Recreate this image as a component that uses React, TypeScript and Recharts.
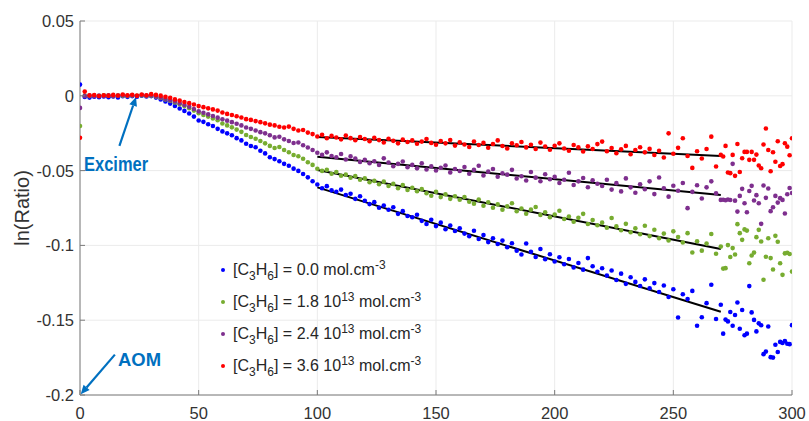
import React from "react";
import {
  CartesianGrid,
  ComposedChart,
  Label,
  Legend,
  Line,
  ReferenceDot,
  ReferenceLine,
  Scatter,
  XAxis,
  YAxis,
} from "recharts";

// time grid (step 2 up to 270, then step 1 in the tail)
const timeX = [
  0, 2, 4, 6, 8, 10, 12, 14, 16, 18,
  20, 22, 24, 26, 28, 30, 32, 34, 36, 38,
  40, 42, 44, 46, 48, 50, 52, 54, 56, 58,
  60, 62, 64, 66, 68, 70, 72, 74, 76, 78,
  80, 82, 84, 86, 88, 90, 92, 94, 96, 98,
  100, 102, 104, 106, 108, 110, 112, 114, 116, 118,
  120, 122, 124, 126, 128, 130, 132, 134, 136, 138,
  140, 142, 144, 146, 148, 150, 152, 154, 156, 158,
  160, 162, 164, 166, 168, 170, 172, 174, 176, 178,
  180, 182, 184, 186, 188, 190, 192, 194, 196, 198,
  200, 202, 204, 206, 208, 210, 212, 214, 216, 218,
  220, 222, 224, 226, 228, 230, 232, 234, 236, 238,
  240, 242, 244, 246, 248, 250, 252, 254, 256, 258,
  260, 262, 264, 266, 268, 270,
  271, 272, 273, 274, 275, 276, 277, 278, 279, 280,
  281, 282, 283, 284, 285, 286, 287, 288, 289, 290,
  291, 292, 293, 294, 295, 296, 297, 298, 299, 300,
];

const blueY = [
  0.0075, -0.0008, -0.0012, -0.0006, -0.001, -0.0004, -0.0009, -0.0005, -0.0011, -0.0003,
  -0.0007, -0.0002, -0.0006, 0.0001, -0.0004, -0.0002, -0.0012, -0.0025, -0.0038, -0.0052,
  -0.0068, -0.0085, -0.0101, -0.0118, -0.0139, -0.0165, -0.0174, -0.019, -0.0202, -0.0221,
  -0.0238, -0.0251, -0.0264, -0.0283, -0.0298, -0.0321, -0.0336, -0.0344, -0.0367, -0.0385,
  -0.0411, -0.0423, -0.0438, -0.0455, -0.0468, -0.0487, -0.0502, -0.0523, -0.0545, -0.0571,
  -0.0593, -0.0618, -0.0604, -0.0632, -0.0641, -0.0627, -0.0663, -0.0655, -0.0689, -0.0671,
  -0.0702, -0.0724, -0.0711, -0.0748, -0.0733, -0.0762, -0.0745, -0.0789, -0.0771, -0.0803,
  -0.0812, -0.0795, -0.0836, -0.0857, -0.0829, -0.0871, -0.0848, -0.0892, -0.0867, -0.0904,
  -0.0886, -0.0921, -0.0939, -0.0902, -0.0957, -0.0931, -0.0978, -0.0952, -0.0991, -0.0968,
  -0.1012, -0.0986, -0.1035, -0.1061, -0.0987, -0.1043, -0.1078, -0.1024, -0.1092, -0.1059,
  -0.1108, -0.1079, -0.1126, -0.1091, -0.1147, -0.1118, -0.1162, -0.1085, -0.1139, -0.1176,
  -0.1153, -0.1202, -0.1168, -0.1231, -0.1189, -0.1257, -0.1213, -0.1244, -0.1271, -0.1227,
  -0.1286, -0.1252, -0.1311, -0.1268, -0.1345, -0.1293, -0.1482, -0.1327, -0.1359, -0.1304,
  -0.1537, -0.148, -0.1386, -0.1263, -0.1492, -0.1397,
  -0.159, -0.1496, -0.1508, -0.1445, -0.1537, -0.1465, -0.1382, -0.1557, -0.1432, -0.1601,
  -0.159, -0.1272, -0.1448, -0.1498, -0.1575, -0.1521, -0.1534, -0.1727, -0.171, -0.1542,
  -0.1747, -0.175, -0.1664, -0.1713, -0.1645, -0.1652, -0.1639, -0.1657, -0.166, -0.1533,
];

const greenY = [
  -0.0202, 0.0001, -0.0002, 0.0002, -0.0001, 0.0003, 0.0, -0.0002, 0.0002, 0.0001,
  -0.0001, 0.0002, 0.0, 0.0003, -0.0001, 0.0001, -0.0006, -0.0015, -0.0024, -0.0033,
  -0.0044, -0.0056, -0.0069, -0.0083, -0.0099, -0.0116, -0.0128, -0.0139, -0.0152, -0.0163,
  -0.0185, -0.0198, -0.0211, -0.0226, -0.0241, -0.0262, -0.0275, -0.0287, -0.0302, -0.0318,
  -0.0335, -0.0349, -0.0342, -0.0362, -0.0377, -0.0396, -0.0404, -0.0421, -0.0444, -0.0462,
  -0.0488, -0.0502, -0.0495, -0.0521, -0.0509, -0.0534, -0.0527, -0.0548, -0.0536, -0.0561,
  -0.0552, -0.0578, -0.0569, -0.0591, -0.0574, -0.0603, -0.0589, -0.0618, -0.0597, -0.0629,
  -0.0615, -0.0638, -0.0624, -0.0651, -0.0668, -0.0642, -0.0677, -0.0659, -0.0689, -0.0671,
  -0.0695, -0.0676, -0.0708, -0.0721, -0.0694, -0.0735, -0.0712, -0.0748, -0.0726, -0.0761,
  -0.0739, -0.0718, -0.0772, -0.0754, -0.0788, -0.0761, -0.0743, -0.0796, -0.0779, -0.0812,
  -0.0793, -0.0768, -0.0824, -0.0807, -0.0842, -0.0816, -0.0789, -0.0857, -0.0831, -0.0865,
  -0.0848, -0.0882, -0.0817, -0.0873, -0.0899, -0.0856, -0.0912, -0.0886, -0.0925, -0.0869,
  -0.0938, -0.0895, -0.0952, -0.0921, -0.0967, -0.0906, -0.0944, -0.0981, -0.0918, -0.1047,
  -0.0972, -0.1035, -0.0988, -0.0924, -0.1056, -0.1008,
  -0.1155, -0.1152, -0.0998, -0.1078, -0.1018, -0.1061, -0.0858, -0.0918, -0.0963, -0.0893,
  -0.0901, -0.1119, -0.1068, -0.1048, -0.0945, -0.0896, -0.0974, -0.123, -0.1076, -0.0952,
  -0.1085, -0.1161, -0.0936, -0.0976, -0.1119, -0.1197, -0.1053, -0.1049, -0.1057, -0.1175,
];

const purpleY = [
  -0.0081, -0.0002, 0.0001, -0.0003, 0.0002, -0.0001, 0.0003, -0.0002, 0.0001, 0.0004,
  0.0, 0.0003, -0.0002, 0.0005, 0.0001, 0.0003, -0.0004, -0.0012, -0.0021, -0.0029,
  -0.0038, -0.0049, -0.0061, -0.0074, -0.0088, -0.0104, -0.0113, -0.0124, -0.0135, -0.0146,
  -0.0157, -0.0166, -0.0176, -0.0187, -0.0198, -0.0212, -0.0221, -0.0232, -0.0243, -0.0251,
  -0.0264, -0.0278, -0.0274, -0.0291, -0.0302, -0.0316, -0.0312, -0.0331, -0.0346, -0.0362,
  -0.0381, -0.0395, -0.0378, -0.0402, -0.0411, -0.0389, -0.0426, -0.0405, -0.0419, -0.0442,
  -0.0428, -0.0451, -0.0437, -0.0462, -0.0418, -0.0446, -0.0471, -0.0455, -0.0439, -0.0478,
  -0.0462, -0.0485, -0.0451, -0.0493, -0.0472, -0.0499, -0.0481, -0.0466, -0.0512, -0.0489,
  -0.0503, -0.0476, -0.0521, -0.0495, -0.0468, -0.0532, -0.0507, -0.0489, -0.0541, -0.0518,
  -0.0527, -0.0495, -0.0553, -0.0538, -0.0566, -0.0509, -0.0547, -0.0571, -0.0524, -0.0558,
  -0.0542, -0.0583, -0.0561, -0.0514, -0.0596, -0.0572, -0.0549, -0.0611, -0.0565, -0.0588,
  -0.0603, -0.0561, -0.0627, -0.0584, -0.0639, -0.0552, -0.0612, -0.0648, -0.0591, -0.0625,
  -0.0572, -0.0657, -0.0546, -0.0618, -0.0674, -0.0601, -0.0635, -0.0583, -0.0751, -0.0642,
  -0.0598, -0.0686, -0.0612, -0.0572, -0.0651, -0.0696,
  -0.0695, -0.0698, -0.0693, -0.0697, -0.0455, -0.0701, -0.0774, -0.0669, -0.0622, -0.0718,
  -0.0778, -0.0636, -0.0602, -0.07, -0.0664, -0.0718, -0.0856, -0.06, -0.0682, -0.062,
  -0.0771, -0.0745, -0.0669, -0.0714, -0.0684, -0.0696, -0.0787, -0.0658, -0.0616, -0.065,
];

const redY = [
  -0.028, 0.0028, 0.0003, 0.0005, -0.0002, 0.0004, 0.0001, 0.0006, 0.0002, 0.0009,
  0.0003, 0.0007, 0.0001, 0.0009, 0.0004, 0.0011, 0.0006, 0.0001, -0.0006, -0.0013,
  -0.0024, -0.0032, -0.0041, -0.0049, -0.0058, -0.0069, -0.0076, -0.0084, -0.0091, -0.0099,
  -0.0112, -0.0121, -0.0128, -0.0137, -0.0145, -0.0156, -0.0161, -0.0169, -0.0176, -0.0184,
  -0.0193, -0.0198, -0.0207, -0.0212, -0.0206, -0.0221, -0.0232, -0.0229, -0.0246, -0.0256,
  -0.0272, -0.0261, -0.0284, -0.0268, -0.0279, -0.0291, -0.0266, -0.0283, -0.0297, -0.0276,
  -0.0289, -0.0303, -0.0281, -0.0296, -0.0312, -0.0287, -0.0301, -0.0318, -0.0293, -0.0309,
  -0.0298, -0.0321, -0.0306, -0.0289, -0.0315, -0.0327, -0.0302, -0.0318, -0.0296, -0.0333,
  -0.0311, -0.0326, -0.0342, -0.0305, -0.0329, -0.0315, -0.0347, -0.0322, -0.0298, -0.0336,
  -0.0352, -0.0318, -0.0331, -0.0309, -0.0345, -0.0327, -0.0356, -0.0313, -0.0339, -0.0361,
  -0.0334, -0.0318, -0.0352, -0.0367, -0.0329, -0.0345, -0.0372, -0.0338, -0.0356, -0.0323,
  -0.0306, -0.0371, -0.0349, -0.0384, -0.0358, -0.0335, -0.0391, -0.0362, -0.0344, -0.0378,
  -0.0355, -0.0396, -0.0368, -0.0412, -0.0251, -0.0387, -0.0348, -0.0284, -0.0402, -0.0482,
  -0.0371, -0.0419, -0.0356, -0.0273, -0.0473, -0.0395,
  -0.0406, -0.0335, -0.0513, -0.0517, -0.0395, -0.0535, -0.0322, -0.0509, -0.0417, -0.0375,
  -0.0375, -0.0428, -0.0375, -0.0428, -0.0393, -0.0466, -0.0484, -0.0326, -0.0219, -0.0362,
  -0.0504, -0.0377, -0.0441, -0.0304, -0.0469, -0.0457, -0.0317, -0.034, -0.0397, -0.0284,
];

// linear fits, 100 -> 270
const fitX = [100, 270];
const fitBlue = [-0.0612, -0.1443];
const fitGreen = [-0.0496, -0.1024];
const fitPurple = [-0.0407, -0.0663];
const fitRed = [-0.0275, -0.0402];

const xTicks = [0, 50, 100, 150, 200, 250, 300];
const yTicks = [-0.2, -0.15, -0.1, -0.05, 0, 0.05];

const concLabels = ["0.0", "1.8", "2.4", "3.6"];
const concExp = ["", "13", "13", "13"];
const seriesColors = ["#0000ff", "#77ac30", "#7e2f8e", "#ff0000"];

// annotation anchors in data units: [tailX, tailY, headX, headY]
const excimerArrow = [16.6, -0.0335, 23.6, -0.0008];
const aomArrow = [14.7, -0.173, 0.3, -0.1995];
const excimerText = [15.2, -0.0502];
const aomText = [25.1, -0.1805];

const FONT = "'Liberation Sans', Arial, Helvetica, sans-serif";
const TEXT = "#333333";
const AXIS = "#7a7a7a";
const ANNO = "#0070c0";

const toPoints = (ys: number[]) => timeX.map((x, i) => ({ x, y: ys[i] }));
const toFit = (ys: number[]) => fitX.map((x, i) => ({ x, y: ys[i] }));

const seriesData = [toPoints(blueY), toPoints(greenY), toPoints(purpleY), toPoints(redY)];
const fitData = [toFit(fitBlue), toFit(fitGreen), toFit(fitPurple), toFit(fitRed)];

function XTick(props: any) {
  const { x, y, payload } = props;
  return (
    <g>
      <line x1={x} y1={y} x2={x} y2={y - 5} stroke={AXIS} />
      <text x={x} y={y + 24} textAnchor="middle" fontSize={16.5} fill={TEXT} fontFamily={FONT}>
        {payload.value}
      </text>
    </g>
  );
}

function YTick(props: any) {
  const { x, y, payload } = props;
  return (
    <g>
      <line x1={x} y1={y} x2={x + 5} y2={y} stroke={AXIS} />
      <text x={x - 6} y={y + 6} textAnchor="end" fontSize={16.5} fill={TEXT} fontFamily={FONT}>
        {String(payload.value)}
      </text>
    </g>
  );
}

function YTitle(props: any) {
  const { viewBox } = props;
  const cx = viewBox.x + 9;
  const cy = viewBox.y + viewBox.height / 2;
  return (
    <text
      x={cx}
      y={cy}
      transform={`rotate(-90 ${cx} ${cy})`}
      textAnchor="middle"
      fontSize={20}
      fill={TEXT}
      fontFamily={FONT}
    >
      ln(Ratio)
    </text>
  );
}

function Arrow(props: any) {
  const { x1, y1, x2, y2 } = props;
  const ang = Math.atan2(y2 - y1, x2 - x1);
  const len = 9;
  const half = 4;
  const bx = x2 - len * Math.cos(ang);
  const by = y2 - len * Math.sin(ang);
  const px = -Math.sin(ang) * half;
  const py = Math.cos(ang) * half;
  return (
    <g>
      <line x1={x1} y1={y1} x2={bx} y2={by} stroke={ANNO} strokeWidth={2.2} />
      <polygon points={`${x2},${y2} ${bx + px},${by + py} ${bx - px},${by - py}`} fill={ANNO} />
    </g>
  );
}

function AnnoText(props: any) {
  const { viewBox, text, width, size } = props;
  return (
    <text
      x={viewBox.x}
      y={viewBox.y}
      textAnchor="middle"
      fontSize={size}
      fontWeight="bold"
      fill={ANNO}
      fontFamily={FONT}
      textLength={width}
      lengthAdjust="spacingAndGlyphs"
    >
      {text}
    </text>
  );
}

function LegendBox() {
  return (
    <div style={{ fontFamily: FONT, fontSize: 16, color: "#262626" }}>
      {concLabels.map((c, i) => (
        <div key={c} style={{ height: 32, display: "flex", alignItems: "center", whiteSpace: "nowrap" }}>
          <span
            style={{
              width: 4,
              height: 4,
              borderRadius: "50%",
              background: seriesColors[i],
              marginRight: 8,
              flex: "none",
            }}
          />
          <span>
            [C<sub style={{ fontSize: 12 }}>3</sub>H<sub style={{ fontSize: 12 }}>6</sub>] = {c}
            {concExp[i] ? (
              <>
                {" "}10<sup style={{ fontSize: 12 }}>{concExp[i]}</sup>
              </>
            ) : null}{" "}
            mol.cm<sup style={{ fontSize: 12 }}>-3</sup>
          </span>
        </div>
      ))}
    </div>
  );
}

export default function App() {
  return (
    <div style={{ position: "absolute", left: 0, top: 0, width: 809, height: 421, background: "#fff" }}>
      <ComposedChart width={809} height={421} margin={{ top: 21, right: 17, bottom: 0, left: 20 }}>
        <CartesianGrid stroke="#ebebeb" />
        <XAxis
          type="number"
          dataKey="x"
          domain={[0, 300]}
          ticks={xTicks}
          interval={0}
          allowDataOverflow
          height={26}
          tickSize={0}
          tickMargin={0}
          axisLine={{ stroke: AXIS }}
          tick={<XTick />}
        />
        <YAxis
          type="number"
          dataKey="y"
          domain={[-0.2, 0.05]}
          ticks={yTicks}
          interval={0}
          allowDataOverflow
          width={60}
          tickSize={0}
          tickMargin={0}
          axisLine={{ stroke: AXIS }}
          tick={<YTick />}
        >
          <Label content={<YTitle />} />
        </YAxis>
        {seriesData.map((d, i) => (
          <Scatter
            key={`s${i}`}
            data={d}
            dataKey="y"
            fill={seriesColors[i]}
            isAnimationActive={false}
            shape={(p: any) => <circle cx={p.cx} cy={p.cy} r={2.3} fill={seriesColors[i]} />}
          />
        ))}
        {fitData.map((d, i) => (
          <Line
            key={`f${i}`}
            data={d}
            dataKey="y"
            stroke="#000"
            strokeWidth={2}
            dot={false}
            activeDot={false}
            legendType="none"
            isAnimationActive={false}
          />
        ))}
        <ReferenceLine
          segment={[
            { x: excimerArrow[0], y: excimerArrow[1] },
            { x: excimerArrow[2], y: excimerArrow[3] },
          ]}
          ifOverflow="visible"
          shape={(p: any) => <Arrow {...p} />}
        />
        <ReferenceLine
          segment={[
            { x: aomArrow[0], y: aomArrow[1] },
            { x: aomArrow[2], y: aomArrow[3] },
          ]}
          ifOverflow="visible"
          shape={(p: any) => <Arrow {...p} />}
        />
        <ReferenceDot
          x={excimerText[0]}
          y={excimerText[1]}
          r={0}
          fill="none"
          stroke="none"
          ifOverflow="visible"
          label={<AnnoText text="Excimer" width={64} size={20} />}
        />
        <ReferenceDot
          x={aomText[0]}
          y={aomText[1]}
          r={0}
          fill="none"
          stroke="none"
          ifOverflow="visible"
          label={<AnnoText text="AOM" width={43} size={19} />}
        />
        <Legend
          layout="horizontal"
          verticalAlign="middle"
          align="center"
          wrapperStyle={{ left: 221, top: 254, width: "auto", height: "auto" }}
          content={() => <LegendBox />}
        />
      </ComposedChart>
    </div>
  );
}
